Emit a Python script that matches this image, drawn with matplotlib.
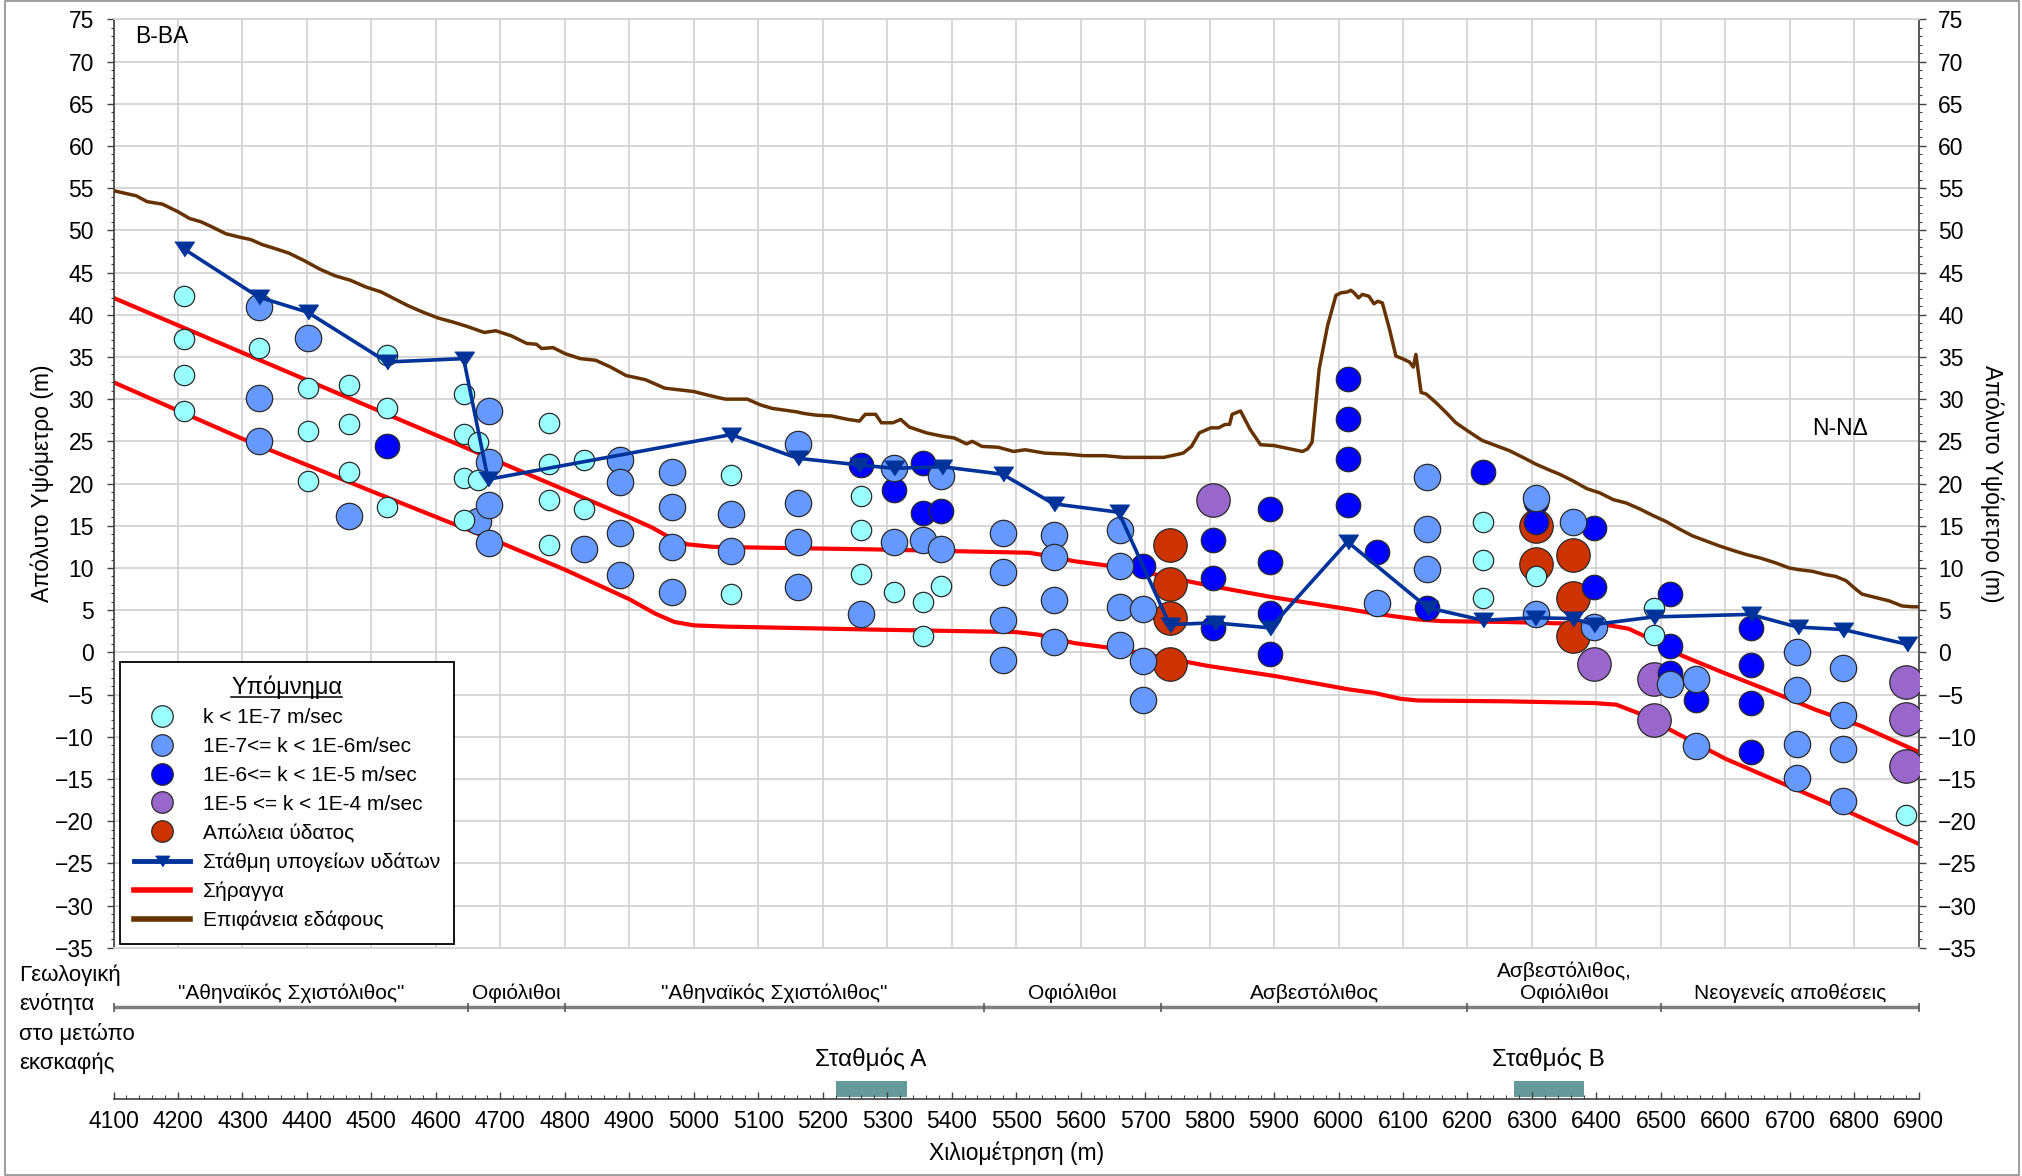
import matplotlib
matplotlib.use("Agg")
import matplotlib.pyplot as plt
from matplotlib.lines import Line2D
from matplotlib.patches import Rectangle
from matplotlib.ticker import MultipleLocator

plt.rcParams['font.family'] = ['Liberation Sans', 'DejaVu Sans']

# ---------------- data ----------------
# ground surface profile (chainage m, elevation m)
surf_x = [4100, 4117, 4135, 4152, 4176, 4200, 4218, 4236, 4253, 4274, 4295, 4313, 4331, 4348,
          4372, 4396, 4420, 4444, 4467, 4491, 4515, 4533, 4556, 4580, 4604, 4628, 4649, 4675,
          4693, 4717, 4741, 4756, 4764, 4782, 4800, 4824, 4848, 4871, 4895, 4925, 4955, 4978,
          5000, 5018, 5037, 5049, 5061, 5083, 5104, 5122, 5141, 5159, 5171, 5190, 5214, 5239,
          5257, 5266, 5282, 5291, 5309, 5321, 5334, 5361, 5386, 5404, 5423, 5432, 5447, 5472,
          5496, 5514, 5545, 5576, 5606, 5637, 5667, 5698, 5729, 5759, 5772, 5784, 5802, 5814,
          5824, 5831, 5835, 5848, 5863, 5879, 5900, 5925, 5944, 5952, 5959, 5970, 5983, 5996,
          6004, 6014, 6019, 6024, 6031, 6037, 6047, 6055, 6061, 6068, 6079, 6089, 6099, 6110,
          6116, 6120, 6128, 6136, 6151, 6167, 6182, 6203, 6223, 6244, 6265, 6286, 6306, 6327,
          6343, 6364, 6385, 6405, 6426, 6446, 6467, 6488, 6508, 6529, 6549, 6570, 6591, 6611,
          6632, 6653, 6678, 6699, 6714, 6735, 6756, 6771, 6787, 6802, 6812, 6833, 6854, 6874,
          6890, 6900]
surf_y = [54.7, 54.4, 54.1, 53.4, 53.1, 52.2, 51.4, 51.0, 50.4, 49.6, 49.2, 48.9, 48.3, 47.9,
          47.3, 46.4, 45.4, 44.6, 44.1, 43.3, 42.7, 42.0, 41.1, 40.3, 39.6, 39.1, 38.6, 37.9,
          38.1, 37.5, 36.6, 36.5, 36.0, 36.1, 35.4, 34.8, 34.6, 33.8, 32.8, 32.3, 31.3, 31.1,
          30.9, 30.55, 30.2, 30.0, 30.0, 30.0, 29.3, 28.9, 28.7, 28.5, 28.3, 28.1, 28.0, 27.6,
          27.4, 28.2, 28.2, 27.2, 27.2, 27.6, 26.7, 26.0, 25.6, 25.4, 24.7, 25.0, 24.4, 24.3,
          23.8, 24.0, 23.6, 23.5, 23.3, 23.3, 23.1, 23.1, 23.1, 23.6, 24.4, 26.0, 26.6, 26.6,
          27.0, 27.0, 28.2, 28.6, 26.4, 24.6, 24.5, 24.1, 23.8, 24.1, 24.9, 33.6, 38.7, 42.3,
          42.6, 42.7, 42.9, 42.6, 42.0, 42.4, 42.2, 41.3, 41.6, 41.4, 38.3, 35.1, 34.8, 34.4,
          33.8, 35.3, 30.8, 30.6, 29.6, 28.4, 27.2, 26.1, 25.1, 24.5, 23.9, 23.1, 22.3, 21.6,
          21.1, 20.3, 19.4, 18.9, 18.1, 17.7, 17.0, 16.2, 15.5, 14.6, 13.8, 13.2, 12.6, 12.1,
          11.6, 11.2, 10.6, 10.0, 9.8, 9.6, 9.2, 9.0, 8.5, 7.5, 6.9, 6.5, 6.1, 5.5,
          5.4, 5.4]

# tunnel crown and invert
tun_top_x = [4100, 4500, 4900, 4935, 4965, 4990, 5030, 5278, 5520, 5545, 5590, 5660, 5730,
             5800, 5900, 6017, 6055, 6123, 6160, 6260, 6360, 6420, 6450, 6478, 6533, 6600,
             6670, 6740, 6810, 6900]
tun_top_y = [42.0, 29.0, 16.0, 14.8, 13.5, 12.8, 12.5, 12.2, 11.8, 11.5, 10.8, 10.1, 9.0,
             7.9, 6.5, 5.1, 4.6, 3.9, 3.7, 3.6, 3.4, 3.2, 2.8, 1.8, -0.4, -2.5,
             -4.6, -6.8, -8.7, -11.8]
tun_bot_x = [4100, 4300, 4500, 4700, 4800, 4900, 4940, 4970, 5000, 5050, 5278, 5500, 5534,
             5590, 5659, 5728, 5797, 5901, 6017, 6055, 6096, 6123, 6260, 6396, 6431, 6465,
             6500, 6550, 6600, 6700, 6800, 6900]
tun_bot_y = [32.0, 25.3, 19.1, 13.0, 9.8, 6.3, 4.6, 3.6, 3.2, 3.05, 2.7, 2.4, 2.1,
             1.1, 0.4, -0.6, -1.6, -2.8, -4.4, -4.8, -5.5, -5.7, -5.8, -6.0, -6.2, -7.2,
             -8.6, -10.6, -12.6, -15.9, -19.2, -22.7]

# groundwater level
wt_x = [4209, 4325, 4401, 4524, 4643, 4681, 5058, 5161, 5257, 5311, 5385, 5479, 5558, 5659,
        5738, 5808, 5894, 6014, 6138, 6224, 6304, 6364, 6396, 6489, 6639, 6712, 6783, 6882]
wt_y = [47.8, 42.1, 40.3, 34.4, 34.8, 20.5, 25.8, 23.0, 22.2, 21.8, 22.0, 21.1, 17.6, 16.6,
        3.3, 3.5, 2.9, 13.1, 5.3, 3.8, 4.1, 4.0, 3.3, 4.2, 4.5, 3.0, 2.7, 0.95]

# permeability test results
k1_x = [4209, 4209, 4209, 4209, 4325, 4401, 4401, 4401, 4465, 4465, 4465, 4524, 4524, 4524,
        4643, 4643, 4643, 4643, 4665, 4665, 4775, 4775, 4775, 4775, 4829, 4829, 5058, 5058,
        5259, 5259, 5259, 5311, 5356, 5356, 5383, 6224, 6224, 6224, 6306, 6489, 6489, 6880]
k1_y = [42.2, 37.1, 32.9, 28.6, 36.1, 31.3, 26.2, 20.3, 31.7, 27.0, 21.4, 35.2, 28.9, 17.2,
        30.6, 25.9, 20.6, 15.7, 24.9, 20.4, 27.2, 22.3, 18.1, 12.7, 22.8, 17.0, 21.0, 6.9,
        18.5, 14.5, 9.25, 7.2, 6.0, 1.9, 7.9, 15.4, 11.0, 6.4, 9.1, 5.3, 2.1, -19.3]

k2_x = [4325, 4325, 4325, 4401, 4465, 4665, 4683, 4683, 4683, 4683, 4829, 4885, 4885, 4885,
        4885, 4966, 4966, 4966, 4966, 5058, 5058, 5161, 5161, 5161, 5161, 5259, 5311, 5311,
        5356, 5383, 5383, 5479, 5479, 5479, 5479, 5558, 5558, 5558, 5558, 5661, 5661, 5661,
        5661, 5697, 5697, 5697, 6060, 6137, 6137, 6137, 6306, 6306, 6364, 6396, 6514, 6554,
        6554, 6711, 6711, 6711, 6711, 6783, 6783, 6783, 6783]
k2_y = [40.9, 30.1, 25.0, 37.3, 16.2, 15.6, 28.6, 22.5, 17.4, 13.0, 12.3, 22.8, 20.2, 14.2,
        9.2, 21.4, 17.2, 12.5, 7.2, 16.4, 12.0, 24.7, 17.7, 13.1, 7.8, 4.5, 21.9, 13.1,
        13.3, 20.9, 12.3, 14.1, 9.5, 3.8, -0.9, 13.9, 11.3, 6.2, 1.2, 14.5, 10.2, 5.4,
        0.9, 5.1, -1.0, -5.7, 5.8, 20.8, 14.6, 9.9, 18.3, 4.6, 15.4, 3.0, -3.7, -3.1,
        -11.1, 0.0, -4.5, -10.8, -14.9, -1.8, -7.4, -11.4, -17.6]

k3_x = [4524, 5259, 5311, 5356, 5356, 5383, 5697, 5806, 5806, 5806, 5894, 5894, 5894, 5894,
        6014, 6014, 6014, 6014, 6060, 6137, 6224, 6306, 6306, 6396, 6396, 6514, 6514, 6514,
        6554, 6639, 6639, 6639, 6639]
k3_y = [24.5, 22.2, 19.2, 22.4, 16.5, 16.7, 10.2, 13.3, 8.8, 2.9, 17.0, 10.75, 4.7, -0.2,
        32.4, 27.6, 22.9, 17.4, 11.9, 5.3, 21.4, 17.8, 15.4, 14.7, 7.8, 6.9, 0.7, -2.4,
        -5.7, 2.9, -1.5, -6.0, -11.8]

k4_x = [5806, 6396, 6489, 6489, 6880, 6880, 6880]
k4_y = [18.1, -1.4, -3.1, -8.0, -3.5, -7.9, -13.5]

loss_x = [5738, 5738, 5738, 5738, 6306, 6306, 6364, 6364, 6364]
loss_y = [12.7, 8.1, 4.1, -1.4, 15.0, 10.5, 11.5, 6.4, 1.9]

# geological units along the excavation face
geo_bounds = [4100, 4650, 4800, 5450, 5725, 6200, 6500, 6900]
geo_names = ['"Αθηναϊκός Σχιστόλιθος"', 'Οφιόλιθοι', '"Αθηναϊκός Σχιστόλιθος"',
             'Οφιόλιθοι', 'Ασβεστόλιθος', 'Ασβεστόλιθος,\nΟφιόλιθοι', 'Νεογενείς αποθέσεις']

# stations
st_names = ['Σταθμός Α', 'Σταθμός Β']
st_start = [5220, 6272]
st_end = [5330, 6380]

labels = ['k < 1E-7 m/sec', '1E-7<= k < 1E-6m/sec', '1E-6<= k < 1E-5 m/sec',
          '1E-5 <= k < 1E-4 m/sec', 'Απώλεια ύδατος', 'Στάθμη υπογείων υδάτων',
          'Σήραγγα', 'Επιφάνεια εδάφους']

# ---------------- styling ----------------
C_K1, C_K2, C_K3, C_K4, C_LOSS = '#99FFFF', '#6699FF', '#0000FF', '#9966CC', '#CC3300'
C_WT, C_TUN, C_SURF = '#003399', '#FF0000', '#663300'
EDGE = '#2a2a2a'
GRID = '#D4D4D4'
AXC = '#404040'
TRI = [(-1, 0.75), (1, 0.75), (0, -0.75)]

W, H = 2022, 1176
fig = plt.figure(figsize=(W / 100, H / 100), dpi=100)


def fx(px):
    return px / W


def fy(py):
    return 1 - py / H


X0, X1, Y0, Y1, YB = 113.5, 1918.8, 19.3, 947.8, 1099.0

ax = fig.add_axes([fx(X0), fy(Y1), fx(X1) - fx(X0), fy(Y0) - fy(Y1)])
ax.set_xlim(4100, 6900)
ax.set_ylim(-35, 75)
ax.set_xticks(range(4100, 6901, 100))
ax.set_yticks(range(-35, 76, 5))
ax.yaxis.set_minor_locator(MultipleLocator(1))
ax.grid(True, which='major', color=GRID, lw=1.3, zorder=0)
ax.set_axisbelow(True)
ax.tick_params(axis='x', which='both', bottom=False, labelbottom=False)
ax.tick_params(axis='y', which='major', left=True, right=True, labelleft=True, labelright=True,
               direction='out', length=5, width=1, pad=9, labelsize=16.5, color=AXC)
ax.tick_params(axis='y', which='minor', left=True, right=True, direction='out', length=2.5,
               width=0.8, color=AXC)
for s in ['top', 'bottom']:
    ax.spines[s].set_color(GRID)
    ax.spines[s].set_linewidth(1.3)
for s in ['left', 'right']:
    ax.spines[s].set_color(AXC)
    ax.spines[s].set_linewidth(1.2)

# tunnel
ax.plot(tun_top_x, tun_top_y, color=C_TUN, lw=3.0, zorder=2, solid_capstyle='butt')
ax.plot(tun_bot_x, tun_bot_y, color=C_TUN, lw=3.0, zorder=2, solid_capstyle='butt')

# permeability points
ax.scatter(loss_x, loss_y, s=580, c=C_LOSS, edgecolors=EDGE, linewidths=0.9, zorder=3.0)
ax.scatter(k4_x, k4_y, s=580, c=C_K4, edgecolors=EDGE, linewidths=0.9, zorder=3.1)
ax.scatter(k3_x, k3_y, s=310, c=C_K3, edgecolors=EDGE, linewidths=0.9, zorder=3.2)
ax.scatter(k2_x, k2_y, s=360, c=C_K2, edgecolors=EDGE, linewidths=0.9, zorder=3.3)
ax.scatter(k1_x, k1_y, s=215, c=C_K1, edgecolors=EDGE, linewidths=0.9, zorder=3.4)

# groundwater and ground surface
ax.plot(wt_x, wt_y, color=C_WT, lw=2.6, marker=TRI, ms=14, mfc=C_WT, mec=C_WT, zorder=4)
ax.plot(surf_x, surf_y, color=C_SURF, lw=2.5, zorder=4)

ax.text(4133, 73.0, 'Β-ΒΑ', fontsize=16.5, ha='left', va='center', zorder=5)
ax.text(6778, 26.5, 'Ν-ΝΔ', fontsize=16.5, ha='center', va='center', zorder=5)

# legend
mk = dict(ls='none', marker='o', ms=15.5, mec=EDGE, mew=0.9)
handles = [Line2D([], [], mfc=C_K1, **mk),
           Line2D([], [], mfc=C_K2, **mk),
           Line2D([], [], mfc=C_K3, **mk),
           Line2D([], [], mfc=C_K4, **mk),
           Line2D([], [], mfc=C_LOSS, **mk),
           Line2D([], [], color=C_WT, lw=3.5, marker=TRI, ms=10, mfc=C_WT, mec=C_WT),
           Line2D([], [], color=C_TUN, lw=4.0),
           Line2D([], [], color=C_SURF, lw=4.0)]
leg = ax.legend(handles, labels, title='Υπόμνημα', title_fontsize=17, fontsize=15,
                loc='upper left', bbox_to_anchor=(fx(120), fy(661.5)),
                bbox_transform=fig.transFigure, borderaxespad=0, frameon=True,
                fancybox=False, edgecolor='black', framealpha=1, borderpad=0.65,
                labelspacing=0.47, handlelength=2.7, handletextpad=0.62, numpoints=1)
leg.get_frame().set_linewidth(1.3)
leg.set_zorder(10)

# axis titles
fig.text(fx(42.5), fy((Y0 + Y1) / 2), 'Απόλυτο Υψόμετρο (m)', rotation=90, fontsize=16.5,
         ha='center', va='center')
fig.text(fx(1992), fy((Y0 + Y1) / 2), 'Απόλυτο Υψόμετρο (m)', rotation=270, fontsize=16.5,
         ha='center', va='center')
fig.text(fx((X0 + X1) / 2), fy(1153.3), 'Χιλιομέτρηση (m)', fontsize=16.5,
         ha='center', va='center')

# lower strip: geology and stations, carrying the chainage axis
axl = fig.add_axes([fx(X0), fy(YB), fx(X1) - fx(X0), fy(Y1) - fy(YB)])
axl.set_xlim(4100, 6900)
axl.set_ylim(0, YB - Y1)
axl.patch.set_alpha(0)
for s in ['top', 'left', 'right']:
    axl.spines[s].set_visible(False)
axl.spines['bottom'].set_color(AXC)
axl.spines['bottom'].set_linewidth(1.2)
axl.set_yticks([])
axl.xaxis.set_major_locator(MultipleLocator(100))
axl.xaxis.set_minor_locator(MultipleLocator(20))
axl.tick_params(axis='x', which='major', direction='in', length=5, width=1, pad=8,
                labelsize=16.5, color=AXC)
axl.tick_params(axis='x', which='minor', direction='in', length=3, width=0.8, color=AXC)

GEO_Y = YB - 1007.3
axl.plot([geo_bounds[0], geo_bounds[-1]], [GEO_Y, GEO_Y], color='#7F7F7F', lw=2.5,
         solid_capstyle='butt', clip_on=False)
axl.vlines(geo_bounds, GEO_Y - 4.5, GEO_Y + 4.5, color='#595959', lw=1.2, clip_on=False)
for a, b, name in zip(geo_bounds[:-1], geo_bounds[1:], geo_names):
    lines = name.split('\n')
    for i, line in enumerate(reversed(lines)):
        axl.text((a + b) / 2, YB - 993.3 + i * 21.6, line, fontsize=15, ha='center',
                 va='center', clip_on=False)

for name, a, b in zip(st_names, st_start, st_end):
    axl.add_patch(Rectangle((a, 1.7), b - a, 16.6, facecolor='#669999', edgecolor='none'))
    axl.text((a + b) / 2, YB - 1059, name, fontsize=17.5, ha='center', va='center')

for i, line in enumerate(['Γεωλογική', 'ενότητα', 'στο μετώπο', 'εκσκαφής']):
    fig.text(fx(19), fy(975 + i * 29.4), line, fontsize=16, ha='left', va='center')

# chart border
fig.add_artist(Rectangle((fx(5), fy(1175)), fx(2019) - fx(5), fy(0.5) - fy(1175),
                         transform=fig.transFigure, fill=False, edgecolor='#8c8c8c', lw=1.2))

# underline the legend title
fig.canvas.draw()
tb = leg.get_title().get_window_extent(fig.canvas.get_renderer())
uy = tb.y0 + 2
fig.add_artist(Line2D([tb.x0 / W, tb.x1 / W], [uy / H, uy / H], transform=fig.transFigure,
                      color='black', lw=1.1, zorder=20))

fig.savefig('out.png', dpi=100)
